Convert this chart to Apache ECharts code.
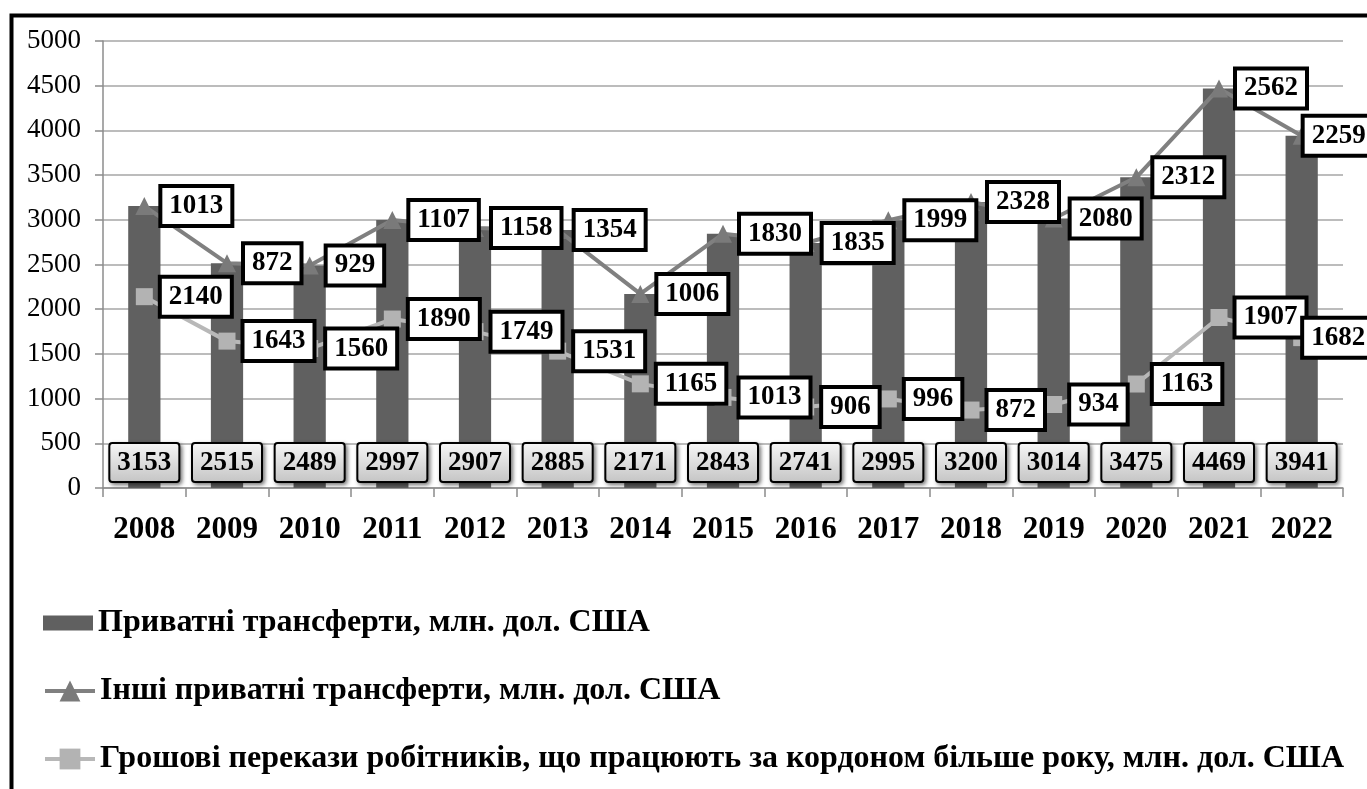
<!DOCTYPE html>
<html><head><meta charset="utf-8">
<script src="https://cdn.jsdelivr.net/npm/echarts@6/dist/echarts.min.js"></script>
<style>html,body{margin:0;padding:0;background:#fff}#c{width:1367px;height:789px}</style>
</head><body><div id="c"></div>
<script>
const years = ['2008','2009','2010','2011','2012','2013','2014','2015','2016','2017','2018','2019','2020','2021','2022'];
const privateTransfers = [3153,2515,2489,2997,2907,2885,2171,2843,2741,2995,3200,3014,3475,4469,3941];
const otherTransfers = [1013,872,929,1107,1158,1354,1006,1830,1835,1999,2328,2080,2312,2562,2259];
const workerRemittances = [2140,1643,1560,1890,1749,1531,1165,1013,906,996,872,934,1163,1907,1682];
const seriesNames = [
  'Приватні трансферти, млн. дол. США',
  'Інші приватні трансферти, млн. дол. США',
  'Грошові перекази робітників, що працюють за кордоном більше року, млн. дол. США'
];

const FONT = 'Liberation Serif';
const chart = echarts.init(document.getElementById('c'), null, {renderer:'canvas'});

const lineLabel = {
  show: true, position: 'right', distance: 9,
  fontFamily: FONT, fontWeight: 'bold', fontSize: 27, color: '#000', lineHeight: 28,
  padding: [4,7,4,7], backgroundColor: '#fff', borderColor: '#000', borderWidth: 4
};
const lastShift = arr => arr.map((v,i) => i === arr.length-1 ? {value: v, label: {offset: [-15, 0]}} : v);

const legendBase = {
  left: 43, orient: 'vertical', itemWidth: 50, itemGap: 0, padding: 0,
  textStyle: {fontFamily: FONT, fontWeight: 'bold', fontSize: 32, lineHeight: 32, color: '#000'},
  lineStyle: {width: 4},
  selectedMode: false
};

chart.setOption({
  animation: false,
  backgroundColor: '#fff',
  grid: {left: 103, right: 24, top: 41, bottom: 301, containLabel: false},
  graphic: [{type:'rect', left: 9, top: 13, shape:{width: 1420, height: 820}, style:{fill:'none', stroke:'#000', lineWidth:4}, z: 100}],
  legend: [
    Object.assign({}, legendBase, {top: 607, itemHeight: 15, icon: 'rect', data: [seriesNames[0]]}),
    Object.assign({}, legendBase, {top: 675, itemHeight: 26, data: [seriesNames[1]]}),
    Object.assign({}, legendBase, {top: 743, itemHeight: 26, data: [seriesNames[2]]})
  ],
  xAxis: {
    type: 'category', data: years, boundaryGap: true,
    axisLine: {lineStyle: {color: '#8c8c8c', width: 1.5}},
    axisTick: {show: true, length: 9, lineStyle: {color: '#8c8c8c', width: 1.5}},
    axisLabel: {fontFamily: FONT, fontWeight: 'bold', fontSize: 31, color: '#000', margin: 26}
  },
  yAxis: {
    type: 'value', min: 0, max: 5000, interval: 500,
    axisLine: {show: true, lineStyle: {color: '#8c8c8c', width: 1.5}},
    axisTick: {show: true, length: 8, lineStyle: {color: '#8c8c8c', width: 1.5}},
    splitLine: {lineStyle: {color: '#a6a6a6', width: 1.5}},
    axisLabel: {fontFamily: FONT, fontSize: 27, color: '#000', margin: 22, formatter: v => String(v)}
  },
  series: [
    {
      name: seriesNames[0], type: 'bar', data: privateTransfers, barWidth: '39%',
      itemStyle: {color: '#606060'}, z: 1,
      label: {
        show: true, position: 'insideBottom', distance: 7,
        fontFamily: FONT, fontWeight: 'bold', fontSize: 27, color: '#000', lineHeight: 28,
        padding: [5,7,4,7], borderColor: '#000', borderWidth: 2, borderRadius: 2,
        backgroundColor: new echarts.graphic.LinearGradient(0,0,0,1,[{offset:0,color:'#f7f7f7'},{offset:1,color:'#c4c4c4'}]),
        shadowColor: 'rgba(0,0,0,0.45)', shadowBlur: 4, shadowOffsetX: 2, shadowOffsetY: 2
      }
    },
    {
      name: seriesNames[2], type: 'line', stack: 'total', data: lastShift(workerRemittances),
      symbol: 'rect', symbolSize: 17, z: 3,
      lineStyle: {color: '#b8b8b8', width: 4}, itemStyle: {color: '#b3b3b3'},
      label: lineLabel
    },
    {
      name: seriesNames[1], type: 'line', stack: 'total', data: lastShift(otherTransfers),
      symbol: 'triangle', symbolSize: 18, z: 4,
      lineStyle: {color: '#808080', width: 4}, itemStyle: {color: '#7a7a7a'},
      label: lineLabel
    }
  ]
});
</script></body></html>
